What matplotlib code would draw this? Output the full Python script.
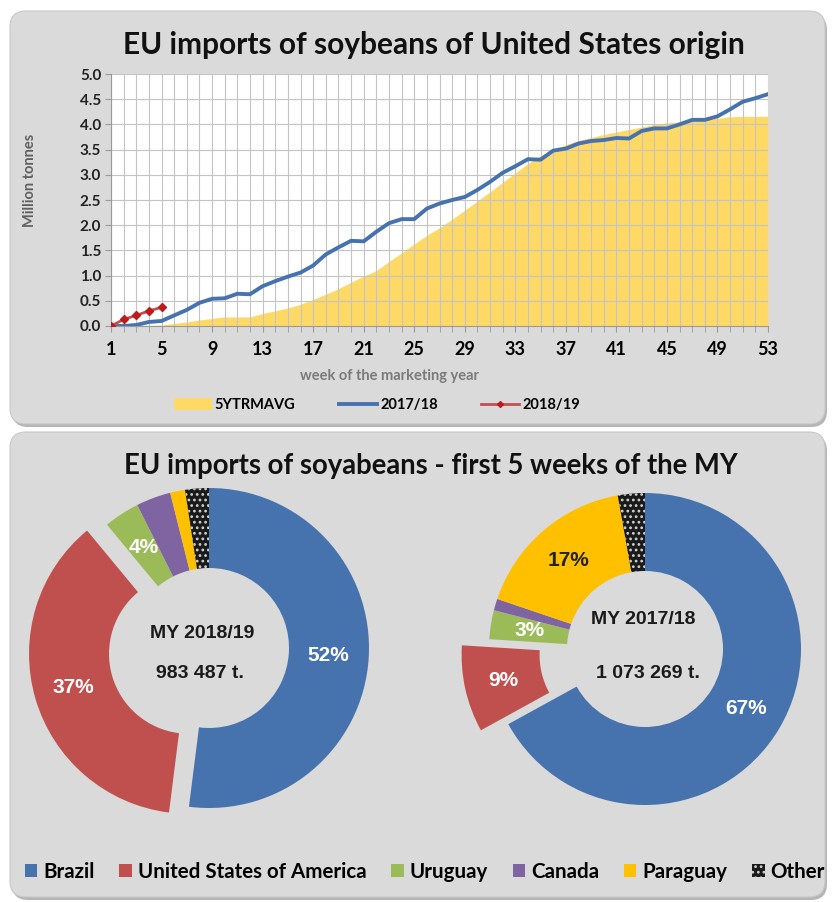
import numpy as np
import matplotlib.pyplot as plt
from matplotlib.patches import FancyBboxPatch, Patch
from matplotlib.lines import Line2D

W, H = 835, 902

# ---- data: top line chart (million tonnes, cumulative) ----
weeks = list(range(1, 54))
avg_5y = [0.0, 0.0, 0.0, 0.01, 0.02, 0.05, 0.08, 0.12, 0.15, 0.18,
          0.18, 0.18, 0.25, 0.30, 0.36, 0.43, 0.53, 0.63, 0.74, 0.87,
          0.99, 1.10, 1.28, 1.45, 1.63, 1.80, 1.95, 2.12, 2.30, 2.48,
          2.66, 2.85, 3.04, 3.22, 3.38, 3.50, 3.60, 3.68, 3.74, 3.80,
          3.85, 3.90, 3.95, 4.00, 4.03, 4.05, 4.08, 4.10, 4.12, 4.15,
          4.16, 4.16, 4.16]
my_1718 = [0.0, 0.0, 0.02, 0.08, 0.10, 0.21, 0.32, 0.46, 0.54, 0.55,
           0.64, 0.63, 0.79, 0.89, 0.98, 1.06, 1.20, 1.42, 1.56, 1.69,
           1.68, 1.87, 2.04, 2.12, 2.12, 2.33, 2.43, 2.50, 2.56, 2.70,
           2.86, 3.04, 3.17, 3.31, 3.30, 3.48, 3.52, 3.62, 3.67, 3.69,
           3.73, 3.72, 3.87, 3.92, 3.92, 4.00, 4.09, 4.09, 4.16, 4.30,
           4.45, 4.52, 4.60]
weeks_1819 = [1, 2, 3, 4, 5]
my_1819 = [0.0, 0.13, 0.21, 0.30, 0.37]
week_ticks = list(range(1, 54, 4))

# ---- data: donuts (% share, first 5 weeks) ----
origins = ["Brazil", "United States of America", "Uruguay", "Canada",
           "Paraguay", "Other"]
share_1819 = [52.0, 37.0, 3.6, 3.5, 1.5, 2.4]
share_1718 = [67.0, 9.0, 3.0, 1.2, 17.0, 2.8]
show_1819 = [True, True, True, False, False, False]
show_1718 = [True, True, True, False, True, False]
total_1819 = "983 487 t."
total_1718 = "1 073 269 t."

colors = ["#4672AE", "#C0504D", "#9BBB59", "#8064A2", "#FFC000", "#1a1a1a"]
label_colors = ["white", "white", "white", "white", "#222222", "white"]

TFONT = ["Lato", "DejaVu Sans"]
AFONT = ["Liberation Sans", "DejaVu Sans"]
plt.rcParams["hatch.linewidth"] = 1.2


def px_axes(fig, x0, y0, x1, y1):
    return fig.add_axes([x0 / W, 1 - y1 / H, (x1 - x0) / W, (y1 - y0) / H])


fig = plt.figure(figsize=(W / 100, H / 100), dpi=100)

# background panels, in pixel coordinates
bg = fig.add_axes([0, 0, 1, 1])
bg.set_xlim(0, W)
bg.set_ylim(H, 0)
bg.axis("off")
for (x, y, w, h) in [(10, 11, 815, 413), (10, 432, 815, 465)]:
    bg.add_patch(FancyBboxPatch((x + 2, y + 3), w, h, boxstyle="round,pad=0,rounding_size=16",
                                fc="#b5b5b5", ec="none"))
    bg.add_patch(FancyBboxPatch((x, y), w, h, boxstyle="round,pad=0,rounding_size=16",
                                fc="#dadada", ec="#c8c8c8", lw=0.8))

bg.text(434, 45, "EU imports of soybeans of United States origin", ha="center", va="center",
        fontsize=21.5, fontweight="bold", family=TFONT, color="#111111")
bg.text(431, 466, "EU imports of soyabeans - first 5 weeks of the MY", ha="center", va="center",
        fontsize=19.8, fontweight="bold", family=TFONT, color="#111111")
bg.text(30, 180, "Million tonnes", rotation=90, ha="center", va="center",
        fontsize=10.5, fontweight="bold", family=TFONT, color="#606060")
bg.text(390, 376, "week of the marketing year", ha="center", va="center",
        fontsize=10.5, fontweight="bold", family=TFONT, color="#7a7a7a")

# ---- top line chart ----
ax = px_axes(fig, 111, 74, 768, 326)
ax.set_facecolor("white")
ax.fill_between(weeks, avg_5y, 0, color="#FFD966", lw=0, zorder=1)
ax.plot(weeks, my_1718, color="#4672AE", lw=2.8, zorder=3)
ax.plot(weeks_1819, my_1819, color="#C0504D", lw=2, marker="D", ms=4.5,
        mfc="#B81C1C", mec="#B81C1C", zorder=4)
ax.set_xlim(1, 53)
ax.set_ylim(0, 5)
ax.set_xticks(week_ticks)
ax.set_xticks(weeks, minor=True)
ax.set_yticks(np.arange(0, 5.01, 0.5))
ax.set_yticklabels([f"{v:.1f}" for v in np.arange(0, 5.01, 0.5)])
ax.set_axisbelow("line")
ax.grid(which="both", axis="x", color="#c4c4c4", lw=0.8)
ax.grid(which="major", axis="y", color="#c4c4c4", lw=0.8)
for s in ["top", "right"]:
    ax.spines[s].set_visible(False)
for s in ["left", "bottom"]:
    ax.spines[s].set_color("#9a9a9a")
ax.tick_params(axis="both", which="both", length=4, color="#9a9a9a")
ax.tick_params(axis="x", pad=7)
ax.tick_params(axis="y", pad=3)
for t in ax.get_xticklabels():
    t.set_fontsize(13)
    t.set_fontweight("bold")
    t.set_family(TFONT)
for t in ax.get_yticklabels():
    t.set_fontsize(11)
    t.set_fontweight("bold")
    t.set_family(TFONT)
    t.set_color("#222222")

top_handles = [Patch(fc="#FFD966", ec="none", label="5YTRMAVG"),
               Line2D([], [], color="#4672AE", lw=2.8, label="2017/18"),
               Line2D([], [], color="#C0504D", lw=2, marker="D", ms=3,
                      mfc="#B81C1C", mec="#B81C1C", label="2018/19")]
fig.legend(handles=top_handles, loc="center", bbox_to_anchor=(377 / W, 1 - 405 / H),
           ncol=3, frameon=False, handlelength=2.6, handleheight=0.8, handletextpad=0.2,
           columnspacing=3.0, prop=dict(family=TFONT, weight="bold", size=10.5))


# ---- donuts ----
def donut(cx, cy, r, shares, explode_us, show, year, total, txt_pos):
    size = 2.5 * r
    dax = px_axes(fig, cx - size / 2, cy - size / 2, cx + size / 2, cy + size / 2)
    wedges, _ = dax.pie(shares, colors=colors, startangle=90, counterclock=False,
                        explode=[0, explode_us, 0, 0, 0, 0],
                        wedgeprops=dict(width=0.5, linewidth=0))
    wedges[-1].set_hatch("...")
    wedges[-1].set_edgecolor("#d0d0d0")
    wedges[-1].set_linewidth(0)
    dax.set_xlim(-1.25, 1.25)
    dax.set_ylim(-1.25, 1.25)
    for w, v, on, c in zip(wedges, shares, show, label_colors):
        if not on:
            continue
        mid = np.deg2rad((w.theta1 + w.theta2) / 2)
        x0, y0 = w.center
        dax.text(x0 + 0.75 * np.cos(mid), y0 + 0.75 * np.sin(mid), f"{v:.0f}%",
                 ha="center", va="center", color=c, fontsize=15, fontweight="bold",
                 family=AFONT)
    for (px, py), s in zip(txt_pos, [year, total]):
        dax.text((px - cx) / r, (cy - py) / r, s, ha="center", va="center",
                 fontsize=14, fontweight="bold", family=AFONT, color="#1a1a1a")


donut(209, 648, 160, share_1819, 0.13, show_1819, "MY 2018/19", total_1819,
      [(202, 633), (200, 673)])
donut(645, 649, 156, share_1718, 0.18, show_1718, "MY 2017/18", total_1718,
      [(643, 620), (648, 673)])

leg_handles = [Patch(fc=c, ec="none", label=o) for c, o in zip(colors, origins)]
leg_handles[-1] = Patch(fc=colors[-1], ec="#d0d0d0", lw=0, hatch="...", label="Other")
fig.legend(handles=leg_handles, loc="center", bbox_to_anchor=(425 / W, 1 - 872 / H),
           ncol=6, frameon=False, handlelength=0.6, handleheight=0.6, handletextpad=0.3,
           columnspacing=1.2, prop=dict(family=TFONT, weight="bold", size=14.8))

fig.savefig("out.png", dpi=100)
